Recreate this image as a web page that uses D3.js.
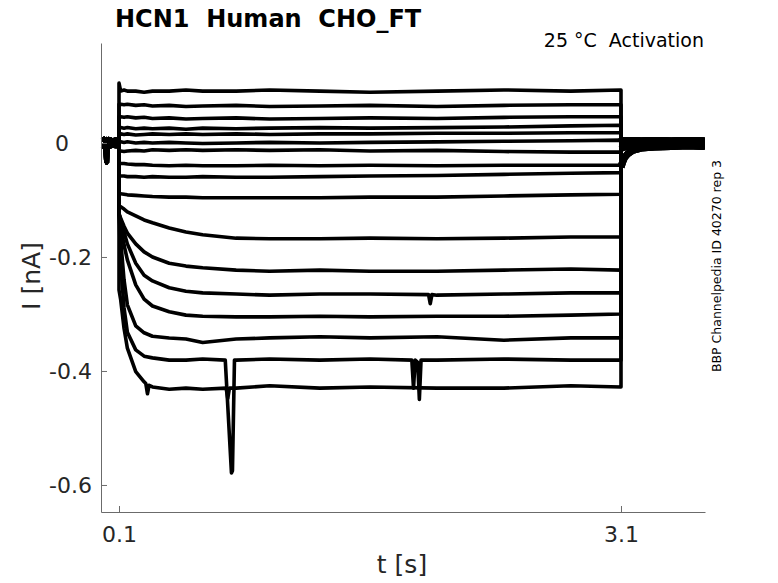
<!DOCTYPE html>
<html><head><meta charset="utf-8">
<script src="https://cdn.jsdelivr.net/npm/d3@7"></script>
<style>
body{margin:0;background:#fff}
svg{display:block;font-family:"DejaVu Sans",sans-serif}
</style>
</head><body>
<svg id="chart" width="778" height="583"></svg>
<script>
// ---------- texts ----------
const titleText = "HCN1  Human  CHO_FT";
const subtitleText = "25 °C  Activation";
const sideText = "BBP Channelpedia ID 40270 rep 3";
const xLabel = "t [s]";
const yLabel = "I [nA]";
const xTicks = [0.1, 3.1];
const yTicks = [0, -0.2, -0.4, -0.6];
const xExtent = [-0.0076, 3.602];
const yExtent = [-0.6474, 0.1754];

// ---------- data: holding period before the step (s, nA) ----------
const baselineTimes = [0, 0.01, 0.02, 0.026, 0.03, 0.04, 0.06, 0.08, 0.1];
const baselineUpper = [0.004, 0.006, 0.003, 0.005, 0.004, 0.006, 0.004, 0.005, 0.004];
const baselineLower = [-0.004, -0.006, -0.004, -0.035, -0.005, -0.006, -0.004, -0.005, -0.005];

// ---------- data: voltage step period (s) ----------
const stepTimes = [0.1, 0.11, 0.13, 0.15, 0.2, 0.25, 0.3, 0.4, 0.5, 0.6, 0.8, 1.0, 1.3, 1.6, 2.0, 2.4, 2.8, 3.1];
// currents during the step, one row per sweep (nA)
const stepCurrents = [
  [0.105, 0.091, 0.093, 0.091, 0.091, 0.089, 0.091, 0.091, 0.093, 0.091, 0.091, 0.093, 0.091, 0.089, 0.091, 0.093, 0.091, 0.093],
  [0.068, 0.068, 0.067, 0.068, 0.066, 0.067, 0.065, 0.066, 0.064, 0.065, 0.066, 0.064, 0.065, 0.066, 0.064, 0.066, 0.067, 0.067],
  [0.046, 0.046, 0.045, 0.046, 0.044, 0.045, 0.043, 0.044, 0.042, 0.043, 0.044, 0.042, 0.043, 0.044, 0.043, 0.045, 0.046, 0.046],
  [0.027, 0.027, 0.026, 0.027, 0.025, 0.026, 0.025, 0.026, 0.024, 0.026, 0.025, 0.026, 0.027, 0.026, 0.027, 0.028, 0.030, 0.031],
  [0.016, 0.016, 0.015, 0.016, 0.014, 0.015, 0.016, 0.015, 0.016, 0.015, 0.016, 0.015, 0.016, 0.016, 0.017, 0.017, 0.018, 0.018],
  [0.002, 0.002, 0.001, 0.002, 0.000, 0.001, 0.000, 0.001, 0.000, -0.001, 0.000, 0.001, 0.000, 0.001, 0.002, 0.003, 0.004, 0.005],
  [-0.014, -0.014, -0.015, -0.014, -0.013, -0.014, -0.012, -0.013, -0.012, -0.013, -0.012, -0.013, -0.012, -0.014, -0.013, -0.015, -0.016, -0.016],
  [-0.035, -0.036, -0.036, -0.037, -0.038, -0.038, -0.039, -0.040, -0.039, -0.040, -0.040, -0.039, -0.040, -0.039, -0.040, -0.039, -0.039, -0.039],
  [-0.057, -0.058, -0.058, -0.059, -0.059, -0.060, -0.059, -0.060, -0.060, -0.059, -0.060, -0.060, -0.059, -0.058, -0.057, -0.055, -0.053, -0.052],
  [-0.086, -0.089, -0.090, -0.091, -0.092, -0.093, -0.094, -0.095, -0.095, -0.096, -0.096, -0.096, -0.096, -0.095, -0.095, -0.093, -0.091, -0.090],
  [-0.111, -0.112, -0.116, -0.121, -0.128, -0.135, -0.140, -0.149, -0.156, -0.161, -0.167, -0.168, -0.168, -0.167, -0.168, -0.167, -0.165, -0.165],
  [-0.125, -0.132, -0.146, -0.158, -0.177, -0.191, -0.200, -0.211, -0.216, -0.219, -0.223, -0.225, -0.223, -0.225, -0.225, -0.223, -0.221, -0.223],
  [-0.123, -0.135, -0.156, -0.177, -0.211, -0.232, -0.242, -0.254, -0.260, -0.263, -0.265, -0.267, -0.265, -0.265, -0.267, -0.265, -0.263, -0.263],
  [-0.123, -0.146, -0.179, -0.205, -0.249, -0.274, -0.286, -0.296, -0.302, -0.304, -0.305, -0.305, -0.304, -0.305, -0.304, -0.304, -0.302, -0.300],
  [-0.121, -0.170, -0.240, -0.284, -0.321, -0.333, -0.339, -0.342, -0.344, -0.350, -0.344, -0.342, -0.340, -0.342, -0.340, -0.346, -0.342, -0.342],
  [-0.121, -0.214, -0.289, -0.332, -0.363, -0.374, -0.377, -0.381, -0.381, -0.379, -0.381, -0.379, -0.381, -0.379, -0.381, -0.379, -0.381, -0.381],
  [-0.258, -0.275, -0.325, -0.360, -0.401, -0.419, -0.428, -0.432, -0.430, -0.432, -0.430, -0.426, -0.430, -0.428, -0.430, -0.430, -0.426, -0.428]
];

// ---------- data: brief artefacts ----------
const artefactSweep = [15, 15, 12, 16, 16];
const artefactTimes = [
  [0.735, 0.772, 0.778, 0.79],
  [1.85, 1.86, 1.87, 1.885, 1.895, 1.905],
  [1.95, 1.96, 1.97],
  [0.74, 0.75, 0.76],
  [0.26, 0.27, 0.28]
];
const artefactCurrents = [
  [-0.381, -0.579, -0.575, -0.381],
  [-0.381, -0.430, -0.381, -0.385, -0.450, -0.381],
  [-0.266, -0.282, -0.266],
  [-0.430, -0.448, -0.430],
  [-0.422, -0.440, -0.425]
];

// ---------- data: tail after the step ----------
const tailTimes = [3.1, 3.104, 3.11, 3.12, 3.14, 3.17, 3.22, 3.3, 3.4, 3.5, 3.6];
const tailFlat = [0.003, 0.004, 0.003, 0.004, 0.003, 0.004, 0.003, 0.004, 0.003, 0.004, 0.003];
const tailMid = [-0.010, -0.009, -0.008, -0.007, -0.006, -0.005, -0.005, -0.004, -0.004, -0.004, -0.004];
const tailDeep = [-0.042, -0.039, -0.033, -0.026, -0.019, -0.013, -0.009, -0.007, -0.006, -0.005, -0.006];
const flatSweepCount = 10;
const deepSweepStart = 14;

// ---------- build ----------
const svg = d3.select("#chart");
const x = d3.scaleLinear().domain(xExtent).range([101, 705]);
const y = d3.scaleLinear().domain(yExtent).range([512, 43]);

const sweeps = stepCurrents.map((row, i) => {
  const base = i < flatSweepCount ? baselineUpper : baselineLower;
  const tail = i < flatSweepCount ? tailFlat : (i >= deepSweepStart ? tailDeep : tailMid);
  const pre = baselineTimes.map((t, k) => [t, base[k]]);
  const step = stepTimes.map((t, k) => [t, row[k]]);
  artefactSweep.forEach((s, a) => {
    if (s === i) artefactTimes[a].forEach((t, k) => step.push([t, artefactCurrents[a][k]]));
  });
  step.sort((p, q) => p[0] - q[0]);
  const post = tailTimes.map((t, k) => [t, tail[k]]);
  return {pre, step, post, all: pre.concat(step, post)};
});

const line = d3.line().x(d => x(d[0])).y(d => y(d[1]));
const traces = svg.append("g");
// holding and tail segments: dense noisy band
traces.selectAll("path.pre").data(sweeps).join("path").attr("class", "pre")
  .attr("d", d => line(d.pre)).attr("fill", "none").attr("stroke", "#000").attr("stroke-width", 5);
traces.selectAll("path.post").data(sweeps).join("path").attr("class", "post")
  .attr("d", d => line(d.post)).attr("fill", "none").attr("stroke", "#000").attr("stroke-width", 7);
traces.selectAll("path.sweep").data(sweeps).join("path").attr("class", "sweep")
  .attr("d", d => line(d.all))
  .attr("fill", "none")
  .attr("stroke", "#000")
  .attr("stroke-width", 3.6)
  .attr("stroke-linejoin", "round");

// axes
const axisColor = "#6b6b6b", textColor = "#262626";
const gy = svg.append("g").attr("transform", "translate(101,0)")
  .call(d3.axisLeft(y).tickValues(yTicks).tickSizeInner(-6).tickSizeOuter(0).tickPadding(9).tickFormat(d => String(d)));
const gx = svg.append("g").attr("transform", "translate(0,512)")
  .call(d3.axisBottom(x).tickValues(xTicks).tickSizeInner(-6).tickSizeOuter(0).tickPadding(14).tickFormat(d => String(d)));
[gx, gy].forEach(g => {
  g.select(".domain").attr("stroke", axisColor);
  g.selectAll(".tick line").attr("stroke", axisColor);
  g.selectAll(".tick text").attr("fill", textColor).style("font-size", "22px").style("font-family", "DejaVu Sans");
});
gy.selectAll(".tick text").filter(d => d === 0).attr("dx", -23);

// labels
svg.append("text").attr("x", 115).attr("y", 27).attr("font-size", 24).attr("font-weight", "bold")
  .attr("fill", "#000").style("white-space", "pre").text(titleText);
svg.append("text").attr("x", 704).attr("y", 47).attr("text-anchor", "end").attr("font-size", 19)
  .attr("fill", "#000").style("white-space", "pre").text(subtitleText);
svg.append("text").attr("x", 402).attr("y", 573).attr("text-anchor", "middle").attr("font-size", 25)
  .attr("fill", textColor).text(xLabel);
svg.append("text").attr("transform", "translate(40,276) rotate(-90)").attr("text-anchor", "middle")
  .attr("font-size", 25).attr("fill", textColor).text(yLabel);
svg.append("text").attr("transform", "translate(721,266) rotate(-90)").attr("text-anchor", "middle")
  .attr("font-size", 12.5).attr("fill", "#000").text(sideText);
</script>
</body></html>
